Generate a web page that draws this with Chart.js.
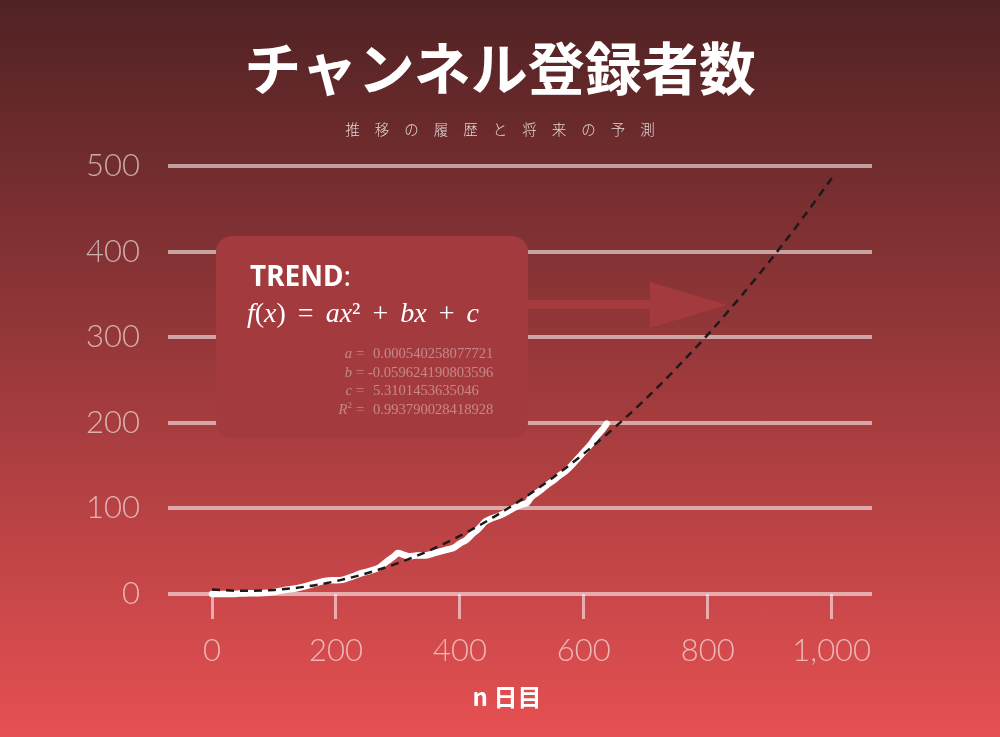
<!DOCTYPE html>
<html lang="ja">
<head>
<meta charset="utf-8">
<script src="https://cdn.jsdelivr.net/npm/chart.js@4.4.1/dist/chart.umd.min.js"></script>
<style>
html, body { margin: 0; padding: 0; }
body {
    width: 1000px; height: 737px; overflow: hidden; position: relative;
    background: linear-gradient(to bottom, #502224 0%, #e65052 100%);
    font-family: "Noto Sans CJK JP", "Noto Sans", sans-serif; color: #fff;
}
#c { position: absolute; left: 0; top: 0; }
.title { position: absolute; left: 0; top: 37px; width: 1000px; text-align: center;
    font-size: 57px; font-weight: 700; line-height: 1; }
.subtitle { position: absolute; left: 0; top: 119px; width: 1000px; text-align: center;
    font-size: 14.5px; font-weight: 300; line-height: 20px; letter-spacing: 15px; padding-left: 15px;
    box-sizing: border-box; color: rgba(255,255,255,0.8); }
.xtitle { position: absolute; left: 407px; top: 681px; width: 200px; text-align: center;
    font-size: 24px; font-weight: 700; line-height: 30px; }
.trend { position: absolute; left: 250px; top: 261px; font-family: "Noto Sans", sans-serif;
    font-size: 28px; line-height: 28px; font-weight: 700; }
.trend span { font-weight: 400; }
.formula { position: absolute; left: 247px; top: 299px; font-family: "Liberation Serif", "DejaVu Serif", serif;
    font-size: 28px; line-height: 28px; word-spacing: 5px; white-space: nowrap; }
.params { position: absolute; left: 328px; top: 344px; font-family: "Liberation Serif", serif;
    font-size: 14.6px; line-height: 18.7px; color: rgba(255,255,255,0.38); white-space: nowrap; }
.params div { height: 18.7px; }
.params .l { display: inline-block; width: 24px; text-align: right; font-style: italic; }
.params .l sup { font-style: normal; font-size: 9px; line-height: 0; vertical-align: 6px; }
.params .e { display: inline-block; width: 16px; text-align: center; }
.params .v { margin-left: 5px; }
.params .v.neg { margin-left: 0; }
</style>
</head>
<body>
<canvas id="c" width="1000" height="737"></canvas>
<div class="title">チャンネル登録者数</div>
<div class="subtitle">推移の履歴と将来の予測</div>
<div class="trend">TREND<span>:</span></div>
<div class="formula"><i>f</i>(<i>x</i>) = <i>ax</i>² + <i>bx</i> + <i>c</i></div>
<div class="params">
  <div><span class="l">a</span><span class="e">=</span><span class="v">0.000540258077721</span></div>
  <div><span class="l">b</span><span class="e">=</span><span class="v neg">-0.059624190803596</span></div>
  <div><span class="l">c</span><span class="e">=</span><span class="v">5.3101453635046</span></div>
  <div><span class="l">R<sup>2</sup></span><span class="e">=</span><span class="v">0.993790028418928</span></div>
</div>
<div class="xtitle">n 日目</div>
<script>
// 実績（日数と登録者数）
const days = [0, 15, 30, 45, 60, 75, 90, 105, 120, 135, 150, 165, 180, 195, 210, 225, 240, 255, 270, 282,
    292, 300, 308, 318, 330, 345, 360, 375, 390, 400, 410, 420, 430, 440, 450, 462, 474, 486, 498, 508,
    514, 520, 530, 540, 550, 560, 570, 580, 590, 600, 610, 620, 630, 637];
const subscribers = [0, 0, 0, 0.5, 1, 1, 1.5, 3, 5, 6.5, 9, 12, 15, 16, 16.5, 20, 24, 27, 31, 38,
    43, 48, 46, 44, 45, 45, 48, 51, 54, 59, 63, 70, 76, 84, 88, 91, 95, 100, 104, 106,
    112, 116, 121, 127, 132, 138, 143, 150, 158, 166, 174, 184, 192, 199];

// トレンド（破線）
const trendDays = [0, 50, 100, 150, 200, 250, 300, 350, 400, 450, 500, 550, 600, 650, 700, 750, 800, 850, 900, 950, 1000];
const trendValues = [5.3, 3.7, 4.8, 8.5, 15, 24.2, 36, 50.6, 67.9, 87.9, 110.5, 135.9, 164, 194.7, 228, 264.4, 303, 344.8, 389, 436.1, 485.7];

const xTicks = [0, 200, 400, 600, 800, 1000];

const toPoints = (xs, ys) => xs.map((x, i) => ({ x: x, y: ys[i] }));

const gridColor = 'rgba(255,255,255,0.55)';
const labelColor = 'rgba(255,255,255,0.6)';
const tickFont = { family: 'Lato, "Noto Sans", sans-serif', size: 31, weight: 300 };

// 注釈ボックスと矢印（グリッドの上、線の下）
const boxPlugin = {
    id: 'trendBox',
    beforeDatasetsDraw(chart) {
        const ctx = chart.ctx;
        ctx.save();
        ctx.fillStyle = '#a33b3e';
        ctx.beginPath();
        ctx.roundRect(216, 236, 312, 202, 16);
        ctx.fill();
        ctx.fillRect(528, 300, 124, 9);
        ctx.beginPath();
        ctx.moveTo(650, 282);
        ctx.lineTo(727, 305);
        ctx.lineTo(650, 328);
        ctx.closePath();
        ctx.fill();
        ctx.restore();
    }
};

new Chart(document.getElementById('c'), {
    type: 'line',
    data: {
        datasets: [{
            label: 'トレンド',
            data: toPoints(trendDays, trendValues),
            borderColor: '#1e1a1a',
            borderWidth: 2.5,
            borderDash: [8, 6],
            pointRadius: 0,
            cubicInterpolationMode: 'monotone',
            clip: false,
            order: 0
        }, {
            label: '登録者数',
            data: toPoints(days, subscribers),
            borderColor: '#ffffff',
            borderWidth: 6.5,
            borderCapStyle: 'round',
            borderJoinStyle: 'round',
            pointRadius: 0,
            tension: 0.2,
            clip: false,
            order: 1
        }]
    },
    options: {
        responsive: false,
        animation: false,
        devicePixelRatio: 1,
        layout: { padding: { top: 166, right: 128, left: 0, bottom: 0 } },
        plugins: { legend: { display: false }, tooltip: { enabled: false } },
        scales: {
            x: {
                type: 'linear',
                min: -71,
                max: 1065,
                afterBuildTicks: (scale) => { scale.ticks = xTicks.map(v => ({ value: v })); },
                afterFit: (scale) => { scale.height = 143; scale.paddingLeft = 0; scale.paddingRight = 0; },
                border: { display: false },
                grid: { drawOnChartArea: false, drawTicks: true, tickLength: 25, tickWidth: 3, tickColor: gridColor },
                ticks: {
                    color: labelColor, font: tickFont, padding: 13, maxRotation: 0,
                    callback: (v) => v.toLocaleString('en-US')
                }
            },
            y: {
                min: 0,
                max: 500,
                afterFit: (scale) => { scale.width = 168; scale.paddingTop = 0; scale.paddingBottom = 0; },
                border: { display: false },
                grid: { color: gridColor, lineWidth: 4, drawTicks: false },
                ticks: { stepSize: 100, color: labelColor, font: tickFont, padding: 28 }
            }
        }
    },
    plugins: [boxPlugin]
});
</script>
</body>
</html>
